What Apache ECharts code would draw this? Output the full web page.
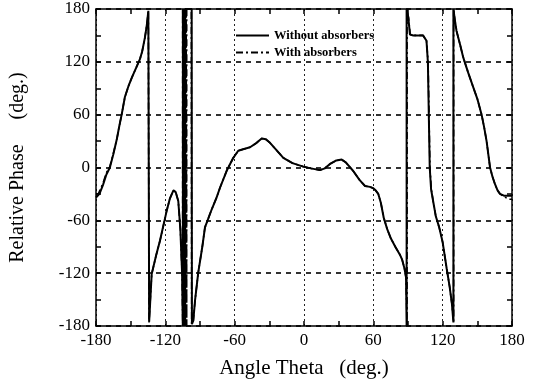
<!DOCTYPE html>
<html>
<head>
<meta charset="utf-8">
<script src="https://cdn.jsdelivr.net/npm/echarts@6/dist/echarts.min.js"></script>
<style>html,body{margin:0;padding:0;background:#fff}#c{width:535px;height:384px}</style>
</head>
<body>
<div id="c"></div>
<script>
var xTicks = [-180, -120, -60, 0, 60, 120, 180];
var yTicks = [-180, -120, -60, 0, 60, 120, 180];
var seriesNames = ['Without absorbers', 'With absorbers'];

var angleWithout = [-180,-177,-174,-171,-168,-165,-162,-160,-157.8,-155,-152,-149,-145,-142,-140,-137.6,-136,-134.7,-134.3,
  -134,-133,-131.8,-128,-124.6,-121,-118.8,-116,-113,-111,-108.8,-107,-105.5,-104.8,
  -104.8,-103.8,-103.8,-102.8,-102.8,-97.2,-97,-95.8,-94.3,-91.5,-88,-85.7,-80,-75.6,-72.7,-67,-61.2,-56.9,-52,-46.7,-41,-36.6,-33,-29.4,-24,-17.9,-10,-0.6,6,13.8,18,22.5,28,32.6,36,42.6,48,52.8,57,60,62,64.3,66.5,69,72,75,79,83,85,87,88.3,88.8,
  88.8,90.3,91.7,94.6,100,103,106,107.2,108,108.8,110,112,114,117,120,123.5,126,128,129.3,
  129.3,130.5,132,135,137.8,142,146.5,150,153.7,156,158,161,163,165.3,167.5,169.6,173,176.9,180];
var phaseWithout = [-34,-30,-20,-8,0,15,32,46,60,80,92,102,114,123,132,148,162,178,180,
  -175,-150,-121,-100,-83,-62,-49,-35,-26,-28,-38,-70,-120,-180,
  180,-180,180,-180,180,180,-178,-174,-151,-119,-90,-68,-48,-34,-23,-4,11,19,21,23,28,33,32,28,20,11,5,1,-1,-3,-1,4,8,9,6,-4,-14,-21,-22,-23.5,-26,-30,-40,-57,-70,-80,-90,-99,-105,-115,-125,-180,
  180,170,151,150,150,150,144,120,60,0,-25,-40,-55,-68,-85,-115,-135,-155,-176,
  180,168,155,140,125,108,91,78,60,45,30,0,-10,-19,-26,-30,-32,-32,-32];

var angleWith = [-180,-178,-176,-174,-171,-168,-165,-162,-160,-157.8,-155,-152,-149,-145,-142,-140,-137.6,-136,-134.7,-134.4,
  -134.1,-133,-131.8,-128,-124.6,-121,-118.8,-116,-113,-111,-108.8,-107,-105.5,-105,
  -105,-102,-102,-101.5,-101.5,-97.5,-97.2,-95.8,-94.3,-91.5,-88,-85.7,-80,-75.6,-72.7,-67,-61.2,-56.9,-52,-46.7,-41,-36.6,-33,-29.4,-24,-17.9,-10,-0.6,6,13.8,18,22.5,28,32.6,36,42.6,48,52.8,57,60,62,64.3,66.5,69,72,75,79,83,85,87,88.3,89.2,
  89.2,90.5,91.9,94.6,100,103,106,107.4,108.2,109,110.2,112,114,117,120,123.5,126,128,129.5,
  129.5,130.5,132,135,137.8,142,146.5,150,153.7,156,158,161,163,165.3,167.5,169.6,173,176.9,180];
var phaseWith = [-30,-30,-24,-18,-6,1,16,32,46,60,80,92,102,114,123,132,148,162,178,180,
  -176,-150,-121,-100,-83,-62,-49,-35,-26,-28,-38,-70,-120,-180,
  180,-180,180,-180,180,180,-178,-174,-151,-119,-90,-68,-48,-34,-23,-4,11,19,21,23,28,33,32,28,20,11,5,1,-1,-3,-1,4,8,9,6,-4,-14,-21,-22,-23.5,-26,-30,-40,-57,-70,-80,-90,-99,-105,-115,-125,-180,
  180,170,151,150,150,150,144,120,60,0,-25,-40,-55,-68,-85,-115,-135,-155,-176,
  180,168,155,140,125,108,91,78,60,45,30,0,-10,-19,-26,-30,-33,-36,-36];

function pairs(a, b) { return a.map(function (v, i) { return [v, b[i]]; }); }

var FONT = 'Liberation Serif';
var chart = echarts.init(document.getElementById('c'), null, {renderer: 'canvas'});
var labelFmt = function (v) { return (v % 60 === 0) ? String(v) : ''; };

var baseAxis = function (pos, showLabel) {
  return {
    type: 'value', min: xTicks[0], max: xTicks[xTicks.length - 1], interval: 30, position: pos,
    axisLine: {show: true, onZero: false, lineStyle: {color: '#000', width: 1.5}},
    axisTick: {show: true, inside: true, length: 5, lineStyle: {color: '#000', width: 1.5}},
    axisLabel: {show: showLabel, formatter: labelFmt, color: '#000', fontFamily: FONT, fontSize: 17, margin: 6},
    splitLine: {show: false}
  };
};

var xBottom = baseAxis('bottom', true);
xBottom.name = 'Angle Theta   (deg.)';
xBottom.nameLocation = 'middle';
xBottom.nameGap = 32;
xBottom.nameTextStyle = {color: '#000', fontFamily: FONT, fontSize: 21};
var xTop = baseAxis('top', false);
var yLeft = baseAxis('left', true);
yLeft.min = yTicks[0]; yLeft.max = yTicks[yTicks.length - 1];
yLeft.name = 'Relative Phase     (deg.)';
yLeft.nameLocation = 'middle';
yLeft.nameGap = 68;
yLeft.nameTextStyle = {color: '#000', fontFamily: FONT, fontSize: 20};
var yRight = baseAxis('right', false);
yRight.min = yTicks[0]; yRight.max = yTicks[yTicks.length - 1];

var xGrid = {type: 'value', min: -180, max: 180, interval: 60, position: 'bottom', show: true,
  axisLine: {show: false}, axisTick: {show: false}, axisLabel: {show: false},
  splitLine: {show: true, lineStyle: {color: '#222', width: 1, type: [2, 3]}}};
var yGrid = {type: 'value', min: -180, max: 180, interval: 60, position: 'left', show: true,
  axisLine: {show: false}, axisTick: {show: false}, axisLabel: {show: false},
  splitLine: {show: true, lineStyle: {color: '#000', width: 1.6, type: [5, 5]}}};

chart.setOption({
  animation: false,
  backgroundColor: '#fff',
  grid: {left: 96, right: 23, top: 9, bottom: 57},
  xAxis: [xBottom, xTop, xGrid],
  yAxis: [yLeft, yRight, yGrid],
  legend: {
    show: true, orient: 'vertical', left: 230, top: 24, itemWidth: 33, itemHeight: 12, itemGap: 4,
    data: [{name: seriesNames[0]}, {name: seriesNames[1]}],
    itemStyle: {opacity: 0},
    textStyle: {color: '#000', fontFamily: FONT, fontSize: 12.5, fontWeight: 'bold'}
  },
  series: [
    {name: seriesNames[1], type: 'line', xAxisIndex: 0, yAxisIndex: 0, data: pairs(angleWith, phaseWith),
      showSymbol: false, symbol: 'none', lineStyle: {color: '#000', width: 1.6, type: [7, 3, 2, 3]}, itemStyle: {color: '#000'}},
    {name: seriesNames[0], type: 'line', xAxisIndex: 0, yAxisIndex: 0, data: pairs(angleWithout, phaseWithout),
      showSymbol: false, symbol: 'none', lineStyle: {color: '#000', width: 2}, itemStyle: {color: '#000'}}
  ]
});
</script>
</body>
</html>
